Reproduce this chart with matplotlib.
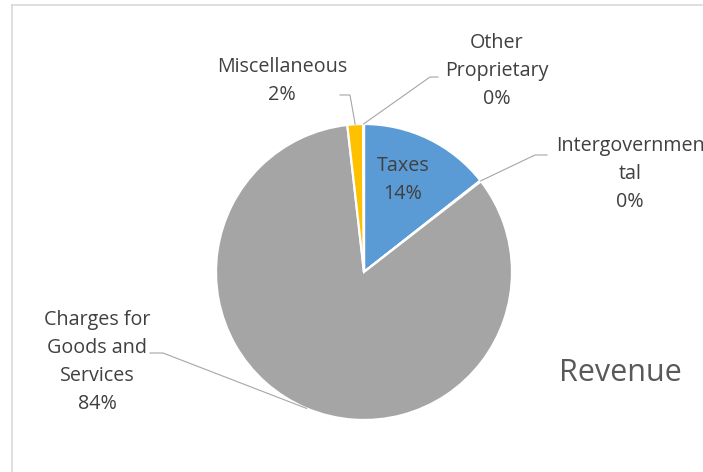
import matplotlib.pyplot as plt
import numpy as np

# Revenue shares (percent)
categories = ['Taxes', 'Intergovernmental', 'Charges for Goods and Services',
              'Miscellaneous', 'Other Proprietary']
shares = [14.4, 0.1, 83.7, 1.7, 0.1]
label_names = ['Taxes', 'Intergovernmen\ntal', 'Charges for\nGoods and\nServices',
               'Miscellaneous', 'Other\nProprietary']
colors = ['#5B9BD5', '#ED7D31', '#A5A5A5', '#FFC000', '#4472C4']

plt.rcParams['font.family'] = ['Open Sans', 'DejaVu Sans']

W, H = 703, 472
fig = plt.figure(figsize=(7.03, 4.72), dpi=100)
ax = fig.add_axes([0, 0, 1, 1])


def py(y):
    # pixel row (top origin) -> data y
    return H - y


cx, cy, r = 364, py(272), 148
wedges, _ = ax.pie(shares, colors=colors, startangle=90, counterclock=False,
                   center=(cx, cy), radius=r,
                   wedgeprops=dict(edgecolor='white', linewidth=1.6))
ax.set_xlim(0, W)
ax.set_ylim(0, H)
ax.axis('off')

# chart frame (only top and left visible in the crop)
ax.plot([12, 12], [-5, py(5)], color='#D9D9D9', lw=1.2, clip_on=False)
ax.plot([12, W + 5], [py(5), py(5)], color='#D9D9D9', lw=1.2, clip_on=False)


def edge_point(w):
    mid = np.deg2rad((w.theta1 + w.theta2) / 2)
    return cx + r * np.cos(mid), cy + r * np.sin(mid)


txt = dict(ha='center', va='center', fontsize=14.2, color='#404040', linespacing=1.53)
pct = [f'{v:.0f}%' for v in shares]

# Taxes label inside slice
ax.text(403, py(180), f'{label_names[0]}\n{pct[0]}', **txt)

# outside labels: (index, label centre, leader elbow points)
outside = [
    (1, (630, 174), [(547, 155), (535, 155)]),
    (2, (97, 362), [(150, 353), (163, 353)]),
    (3, (282, 81), [(340, 95), (350, 95)]),
    (4, (497, 71), [(438, 77), (430, 77)]),
]
for i, (lx, ly), elbow in outside:
    ax.text(lx, py(ly), f'{label_names[i]}\n{pct[i]}', **txt)
    ex, ey = edge_point(wedges[i])
    xs = [p[0] for p in elbow] + [ex]
    ys = [py(p[1]) for p in elbow] + [ey]
    ax.plot(xs, ys, color='#A6A6A6', lw=0.8)

ax.text(620, py(373), 'Revenue', ha='center', va='center', fontsize=22, color='#595959')

fig.savefig('out.png', dpi=100)
